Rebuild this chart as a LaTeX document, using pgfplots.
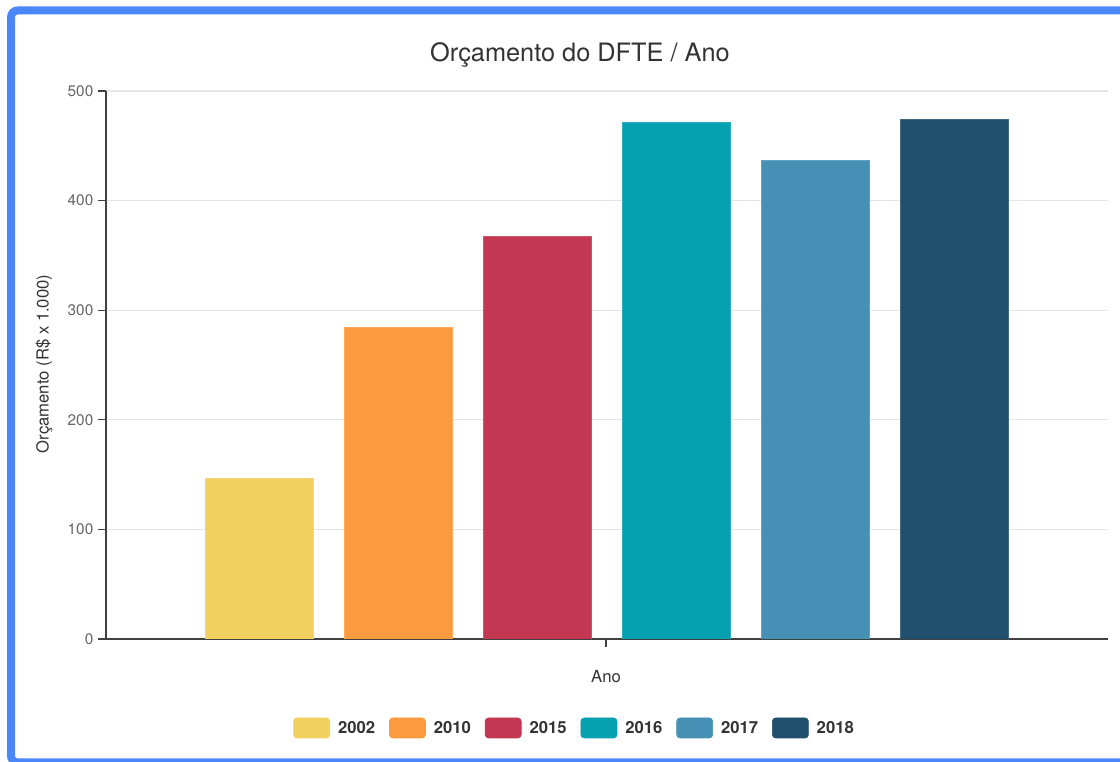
\documentclass[border=0pt]{standalone}
\usepackage{pgfplots}
\pgfplotsset{compat=1.18}
\usepackage{fontspec}
\setmainfont{TeX Gyre Heros}
\definecolor{c2002}{HTML}{F2D060}
\definecolor{c2010}{HTML}{FC9A3F}
\definecolor{c2015}{HTML}{C33752}
\definecolor{c2016}{HTML}{05A1B0}
\definecolor{c2017}{HTML}{4690B6}
\definecolor{c2018}{HTML}{21506E}
\definecolor{frameblue}{HTML}{4A87F8}
\definecolor{txt}{HTML}{333333}
\definecolor{tick}{HTML}{666666}
\pgfplotsset{mybar/.style={ybar, bar width=108, bar shift=0pt, fill=#1, draw=#1!85!white, line width=0.5pt,
  legend image code/.code={\fill[#1, rounded corners=2.5pt] (0pt,-7.5pt) rectangle (27pt,7.5pt);}}}
\begin{document}
\begin{tikzpicture}[x=0.75pt,y=0.75pt]
\useasboundingbox (0,0) rectangle (1120,762);
\fill[white] (0,0) rectangle (1120,762);
\begin{scope}
\clip (0,0) rectangle (1120,762);
\draw[frameblue, line width=6pt, rounded corners=5pt] (11,751.5) rectangle (1150,-0.5);
\end{scope}
\begin{axis}[
  at={(79.5pt,92.25pt)}, anchor=south west,
  scale only axis, width=751.5pt, height=411pt,
  xmin=0, xmax=1002, ymin=0, ymax=500,
  enlargelimits=false,
  axis x line*=bottom, axis y line*=left,
  axis line style={-, draw=black!75, line width=1pt},
  xtick={500}, xticklabels={},
  ytick={0,100,200,300,400,500},
  tick align=outside, major tick length=6pt,
  tick style={draw=black!75, line width=0.8pt},
  ymajorgrids, major grid style={draw=black!10, line width=0.8pt},
  yticklabel style={font=\fontsize{11.5}{13}\selectfont, text=tick},
  /pgf/number format/assume math mode=true,
  legend columns=6,
  legend style={at={(axis description cs:0.468,-0.1624)}, anchor=center, draw=none, fill=none,
    font=\fontsize{12.5}{14}\selectfont\bfseries, text=txt,
    /tikz/every odd column/.append style={column sep=4pt},
    /tikz/every even column/.append style={column sep=8.5pt}},
]
\addplot[mybar=c2002] coordinates {(153,146.5)};
\addlegendentry{2002}
\addplot[mybar=c2010] coordinates {(292,284.5)};
\addlegendentry{2010}
\addplot[mybar=c2015] coordinates {(431,367)};
\addlegendentry{2015}
\addplot[mybar=c2016] coordinates {(570,471.5)};
\addlegendentry{2016}
\addplot[mybar=c2017] coordinates {(709,436.5)};
\addlegendentry{2017}
\addplot[mybar=c2018] coordinates {(848,474.5)};
\addlegendentry{2018}
\end{axis}
\node[anchor=base, text=txt, font=\fontsize{19}{22}\selectfont] at (580,700) {Orçamento do DFTE / Ano};
\node[anchor=base, text=txt, font=\fontsize{12.5}{14}\selectfont] at (606,79) {Ano};
\node[rotate=90, text=txt, font=\fontsize{12.5}{14}\selectfont] at (44,398) {Orçamento (R\$ x 1.000)};
\end{tikzpicture}
\end{document}
